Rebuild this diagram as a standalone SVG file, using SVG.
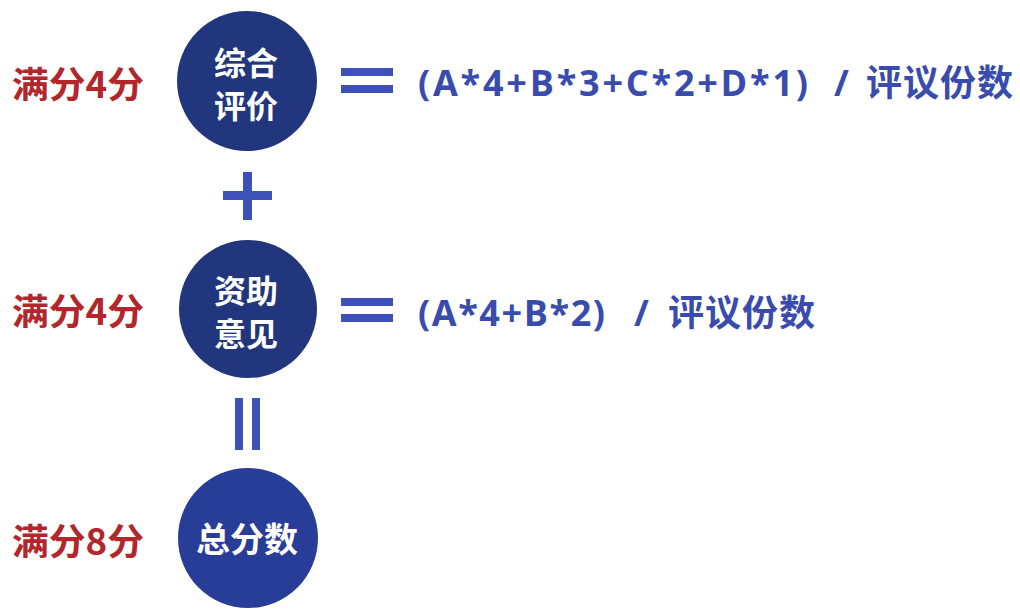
<svg xmlns="http://www.w3.org/2000/svg" width="1020" height="610" viewBox="0 0 1020 610">
  <style>
    .bg { fill: #ffffff; }
    .circ { fill: #21367c; }
    .circ3 { fill: #283d98; }
    .ctext { font-family: "Noto Sans CJK SC", "Noto Sans", sans-serif; font-weight: 700; font-size: 32px; fill: #ffffff; text-anchor: middle; dominant-baseline: central; }
    .label { font-family: "Noto Sans CJK SC", "Noto Sans", sans-serif; font-weight: 700; font-size: 36px; fill: #b3262b; dominant-baseline: central; }
    .formula { font-family: "Open Sans", "Noto Sans CJK SC", sans-serif; font-weight: 700; font-size: 36px; fill: #3a4bae; }
    .cjk { font-family: "Noto Sans CJK SC", sans-serif; font-weight: 700; font-size: 36px; fill: #3a4bae; }
    .op { fill: #3d51b9; }
  </style>
  <rect class="bg" x="0" y="0" width="1020" height="610"/>

  <g id="connectors">
    <!-- equals signs -->
    <rect class="op" x="341" y="68" width="52" height="8"/>
    <rect class="op" x="341" y="85" width="52" height="8"/>
    <rect class="op" x="341" y="298" width="52" height="8"/>
    <rect class="op" x="341" y="314" width="52" height="8"/>
    <!-- plus sign -->
    <rect class="op" x="223" y="191" width="49" height="9"/>
    <rect class="op" x="243" y="172" width="9" height="48"/>
    <!-- vertical equals -->
    <rect class="op" x="235" y="398" width="8" height="52"/>
    <rect class="op" x="252" y="398" width="8" height="52"/>
  </g>

  <g id="node-zonghe">
    <text class="label" x="12" y="82" textLength="132" lengthAdjust="spacingAndGlyphs">满分4分</text>
    <circle class="circ" cx="247" cy="81" r="70"/>
    <text class="ctext" x="246" y="61">综合</text>
    <text class="ctext" x="246" y="104">评价</text>
    <text class="formula" x="418" y="96" textLength="390" lengthAdjust="spacing">(A*4+B*3+C*2+D*1)</text>
    <text class="formula" x="834" y="96">/</text>
    <text class="cjk" x="866" y="96" textLength="147" lengthAdjust="spacing">评议份数</text>
  </g>

  <g id="node-zizhu">
    <text class="label" x="12" y="309" textLength="132" lengthAdjust="spacingAndGlyphs">满分4分</text>
    <circle class="circ" cx="248" cy="309" r="69"/>
    <text class="ctext" x="246" y="289">资助</text>
    <text class="ctext" x="246" y="332">意见</text>
    <text class="formula" x="418" y="326" textLength="187" lengthAdjust="spacing">(A*4+B*2)</text>
    <text class="formula" x="634" y="326">/</text>
    <text class="cjk" x="668" y="326" textLength="147" lengthAdjust="spacing">评议份数</text>
  </g>

  <g id="node-total">
    <text class="label" x="12" y="539" textLength="132" lengthAdjust="spacingAndGlyphs">满分8分</text>
    <circle class="circ3" cx="248" cy="538" r="70"/>
    <text class="ctext" x="247" y="537" style="font-size:34px">总分数</text>
  </g>
</svg>
